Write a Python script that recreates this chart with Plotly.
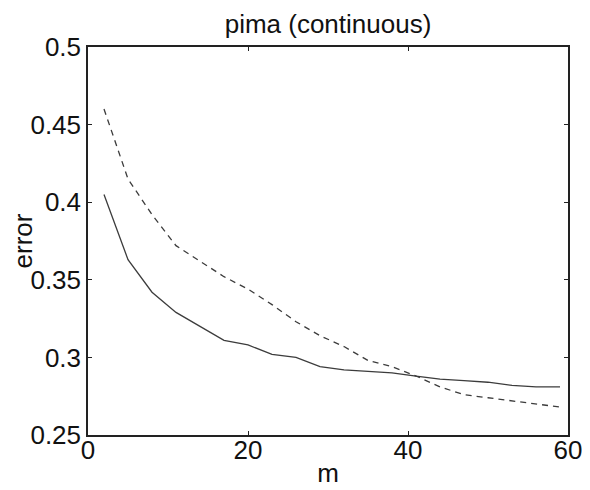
import plotly.graph_objects as go

m_values = [2, 5, 8, 11, 14, 17, 20, 23, 26, 29, 32, 35, 38, 41, 44, 47, 50, 53, 56, 59]
error_solid = [0.405, 0.363, 0.342, 0.329, 0.320, 0.311, 0.308, 0.302, 0.300, 0.294,
               0.292, 0.291, 0.290, 0.288, 0.286, 0.285, 0.284, 0.282, 0.281, 0.281]
error_dashed = [0.460, 0.415, 0.392, 0.372, 0.362, 0.352, 0.344, 0.334, 0.323, 0.314,
                0.307, 0.298, 0.294, 0.288, 0.281, 0.276, 0.274, 0.272, 0.270, 0.268]

x_ticks = [0, 20, 40, 60]
x_tick_labels = ["0", "20", "40", "60"]
y_ticks = [0.25, 0.3, 0.35, 0.4, 0.45, 0.5]
y_tick_labels = ["0.25", "0.3", "0.35", "0.4", "0.45", "0.5"]

FONT = "Liberation Sans, Arial, Helvetica, sans-serif"

fig = go.Figure()
fig.add_trace(go.Scatter(x=m_values, y=error_solid, mode="lines",
                         line=dict(color="#3c3c3c", width=1.3)))
fig.add_trace(go.Scatter(x=m_values, y=error_dashed, mode="lines",
                         line=dict(color="#3c3c3c", width=1.3, dash="6px,5px")))

axis_common = dict(showgrid=False, zeroline=False, showline=True, linecolor="#222",
                   linewidth=1.5, mirror="ticks", ticks="inside", ticklen=4,
                   tickcolor="#222", tickwidth=1, automargin=False,
                   tickfont=dict(family=FONT, size=26, color="#111"))

# page body has an 8px margin, so the figure is shifted by 8px right/down
fig.update_layout(
    width=582, height=482,
    margin=dict(l=80, r=22, t=39, b=55),
    paper_bgcolor="white", plot_bgcolor="white",
    showlegend=False,
    title=dict(text="pima (continuous)", x=0.5, xanchor="center", xref="paper",
               y=1 - 16 / 482, yanchor="middle", yref="container",
               font=dict(family=FONT, size=26, color="#111")),
    xaxis=dict(range=[0, 60], tickvals=x_ticks, ticktext=x_tick_labels,
               ticklabelstandoff=-9,
               title=dict(text="m", font=dict(family=FONT, size=26, color="#111"), standoff=0),
               **axis_common),
    yaxis=dict(range=[0.25, 0.5], tickvals=y_ticks, ticktext=y_tick_labels,
               title=dict(text="error", font=dict(family=FONT, size=26, color="#111"), standoff=0),
               **axis_common),
)

fig.write_html("out.html")
